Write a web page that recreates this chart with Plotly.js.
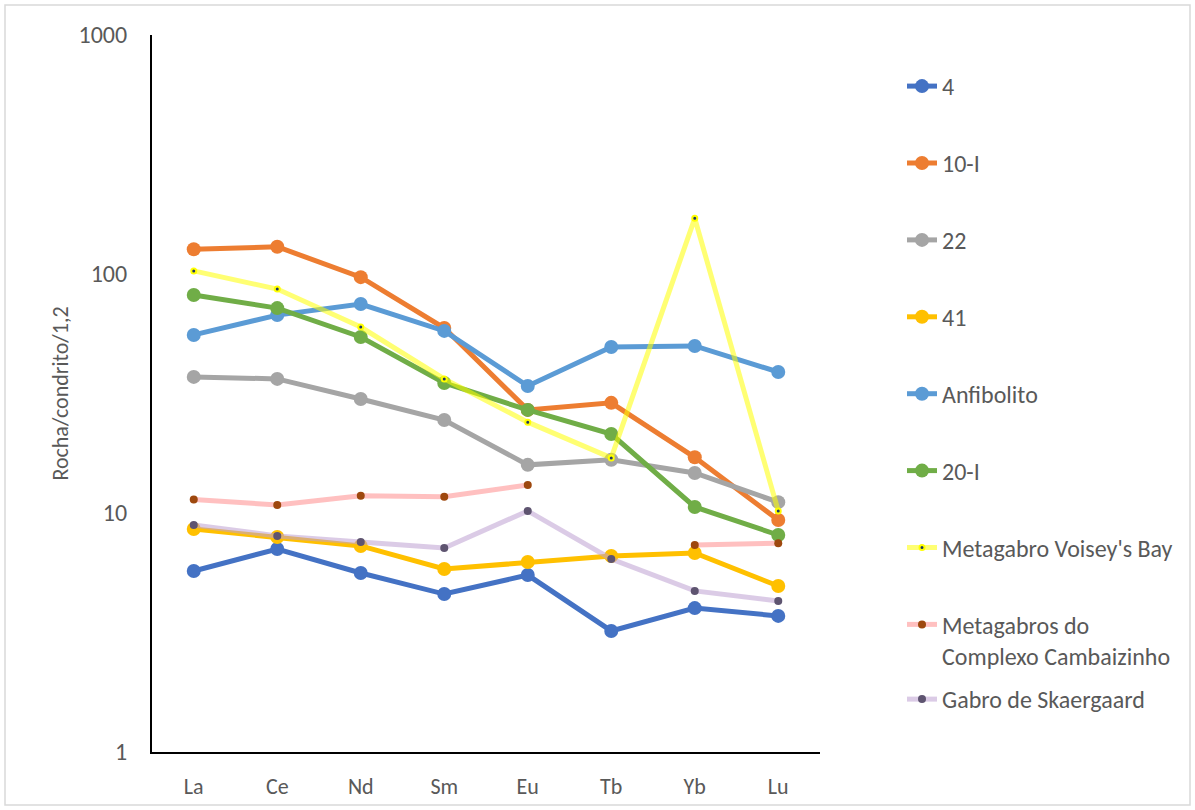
<!DOCTYPE html>
<html>
<head>
<meta charset="utf-8">
<script src="https://cdn.plot.ly/plotly-3.0.1.min.js"></script>
<style>
  html, body { margin: 0; padding: 0; background: #fff; }
  #chart { width: 1195px; height: 810px; }
</style>
</head>
<body>
<div id="chart"></div>
<script>
// Rare earth elements (chondrite-normalised, /1,2)
const elements = ["La", "Ce", "Nd", "Sm", "Eu", "Tb", "Yb", "Lu"];

const s4          = [5.72, 7.07, 5.61, 4.58, 5.50, 3.21, 4.00, 3.71];
const s10I        = [127, 130, 97, 59.4, 27.0, 28.9, 17.1, 9.35];
const s22         = [37.1, 36.4, 30.0, 24.5, 15.9, 16.7, 14.7, 11.1];
const s41         = [8.57, 7.94, 7.28, 5.83, 6.24, 6.61, 6.80, 4.95];
const anfibolito  = [55.6, 67.3, 74.9, 57.8, 34.0, 49.5, 50.0, 38.9];
const s20I        = [81.7, 72.0, 54.5, 35.0, 27.0, 21.4, 10.6, 8.09];
const voiseysBay  = [103, 86.5, 60.0, 36.4, 24.0, 17.0, 171, 10.2];
const cambaizinho = [11.4, 10.8, 11.8, 11.7, 13.1, null, 7.35, 7.48];
const skaergaard  = [8.91, 8.02, 7.56, 7.14, 10.2, 6.42, 4.72, 4.28];

const yTicks = [1, 10, 100, 1000];
const yTickText = ["1", "10", "100", "1000"];

const FONT = "Carlito, Lato, 'Open Sans', sans-serif";
const GREY_TEXT = "#595959";

function mainSeries(name, y, color, group) {
  return {
    type: "scatter", mode: "lines+markers", name: name, x: elements, y: y,
    line: { color: color, width: 5 },
    marker: { color: color, size: 14 },
    legendgroup: group, connectgaps: false
  };
}

const traces = [
  mainSeries("4", s4, "#4472C4", "g1"),
  mainSeries("10-I", s10I, "#ED7D31", "g2"),
  mainSeries("22", s22, "#A5A5A5", "g3"),
  mainSeries("41", s41, "#FFC000", "g4"),
  mainSeries("Anfibolito", anfibolito, "#5B9BD5", "g5"),
  mainSeries("20-I", s20I, "#70AD47", "g6"),
  {
    type: "scatter", mode: "lines+markers", name: "Metagabro Voisey's Bay",
    x: elements, y: voiseysBay, legendgroup: "g7",
    line: { color: "rgba(255,255,0,0.55)", width: 5 },
    marker: { color: "#1F3864", size: 5, line: { color: "#FFFF00", width: 2 } }
  },
  {
    type: "scatter", mode: "lines+markers", name: "Metagabros do<br>Complexo Cambaizinho",
    x: elements, y: cambaizinho, legendgroup: "g8", connectgaps: false,
    line: { color: "rgba(255,140,140,0.55)", width: 5 },
    marker: { color: "#9E480E", size: 8 }
  },
  {
    type: "scatter", mode: "lines+markers", name: "Gabro de Skaergaard",
    x: elements, y: skaergaard, legendgroup: "g9", legend: "legend2",
    line: { color: "rgba(190,160,210,0.55)", width: 5 },
    marker: { color: "#5E5470", size: 8 }
  }
];

// plot area: x 152..820, y 35..752 (pixels)
const PW = 668, PH = 717;
const px = v => (v - 152) / PW;
const py = v => (752 - v) / PH;

const legendBase = {
  xref: "container", yref: "container",
  x: 902 / 1195, xanchor: "left", yanchor: "top",
  font: { family: FONT, size: 24, color: GREY_TEXT },
  tracegroupgap: 42.7, valign: "top", maxheight: 800,
  bgcolor: "rgba(0,0,0,0)", borderwidth: 0
};

const layout = {
  width: 1195, height: 810,
  margin: { l: 152, r: 375, t: 35, b: 58 },
  paper_bgcolor: "#ffffff", plot_bgcolor: "#ffffff",
  font: { family: FONT, color: GREY_TEXT, size: 22 },
  showlegend: true,
  xaxis: {
    type: "category", range: [-0.5, 7.5],
    showgrid: false, zeroline: false,
    showline: true, linecolor: "#000000", linewidth: 2,
    ticks: "outside", ticklen: 14, tickcolor: "rgba(0,0,0,0)",
    tickfont: { family: FONT, size: 22, color: GREY_TEXT },
    fixedrange: true
  },
  yaxis: {
    type: "log", range: [0, 3],
    tickvals: yTicks, ticktext: yTickText,
    showgrid: false, zeroline: false,
    showline: true, linecolor: "#000000", linewidth: 2,
    ticks: "outside", ticklen: 18, tickcolor: "rgba(0,0,0,0)",
    tickfont: { family: FONT, size: 24, color: GREY_TEXT },
    title: { text: "Rocha/condrito/1,2", font: { family: FONT, size: 22, color: GREY_TEXT }, standoff: 4 },
    fixedrange: true
  },
  legend: Object.assign({}, legendBase, { y: 1 - 64 / 810 }),
  legend2: Object.assign({}, legendBase, { y: 1 - 677 / 810 }),
  shapes: [
    {
      type: "rect", xref: "paper", yref: "paper",
      x0: px(5), x1: px(1190), y0: py(805), y1: py(5),
      line: { color: "#D9D9D9", width: 1.5 }, fillcolor: "rgba(0,0,0,0)", layer: "below"
    }
  ]
};

Plotly.newPlot("chart", traces, layout, { displayModeBar: false, staticPlot: true });
</script>
</body>
</html>
